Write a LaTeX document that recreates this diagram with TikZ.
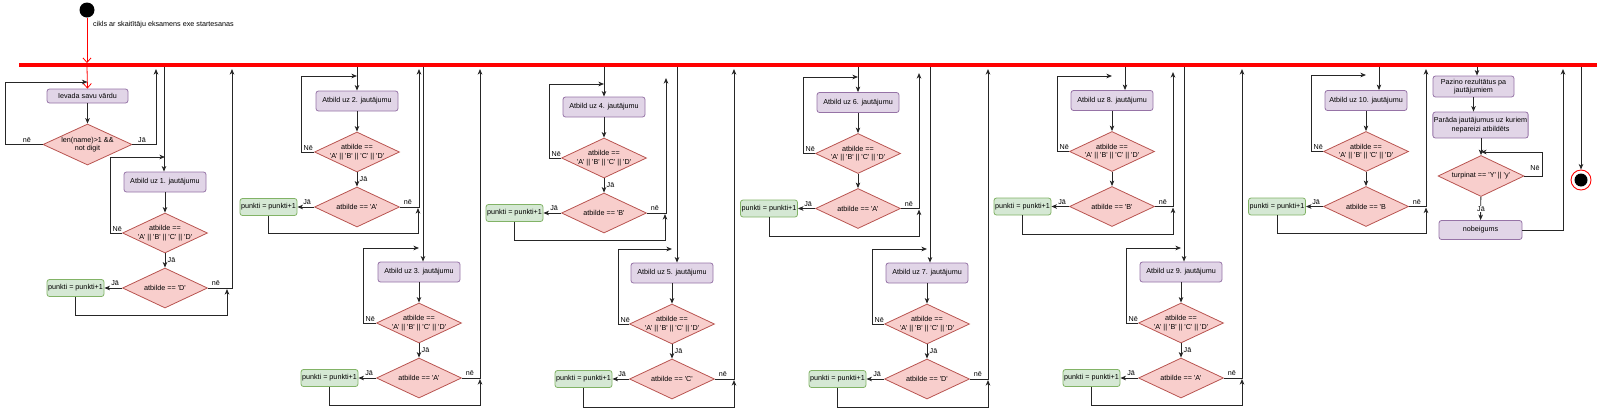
\documentclass[tikz,border=0pt]{standalone}
\usepackage{fontspec}
\setmainfont{Liberation Sans}[Ligatures=TeXOff]
\usetikzlibrary{shapes.geometric,arrows.meta}
\definecolor{actf}{HTML}{E1D5E7}
\definecolor{actb}{HTML}{9673A6}
\definecolor{decf}{HTML}{F8CECC}
\definecolor{decb}{HTML}{B85450}
\definecolor{okf}{HTML}{D5E8D4}
\definecolor{okb}{HTML}{82B366}
\begin{document}
\begin{tikzpicture}[x=1pt,y=-1pt,
  font=\fontsize{7.2}{8.4}\selectfont,
  act/.style={draw=actb, fill=actf, rounded corners=2.5, minimum width=82, minimum height=20, inner sep=1, align=center, line width=0.8},
  dec/.style={diamond, draw=decb, fill=decf, minimum width=85, minimum height=40, inner sep=0, line width=0.8},
  dtxt/.style={inner sep=0, align=center},
  okbox/.style={draw=okb, fill=okf, rounded corners=2.5, minimum width=57, minimum height=17, inner sep=1, line width=0.8},
  flow/.style={line width=0.9, draw=black!85},
  arr/.style={flow, -{Stealth[length=5.5, width=4.5, inset=1.5]}},
  lbl/.style={inner sep=0.5}]
\useasboundingbox (0,0) rectangle (1600,413);

% bar
\node[fill=red, minimum width=1578, minimum height=3.5, inner sep=0] (bar) at (808,65) {};

% start
\node[circle, fill=black, minimum size=15, inner sep=0] (start) at (87,10) {};
\node[anchor=west, inner sep=0] (startlbl) at (93,25) {cikls ar skait\={\i}t\={a}ju eksamens exe startesanas};
\draw[red, line width=0.8, -{Straight Barb[length=4.5, width=8]}] (start) -- (start |- bar.north);

% name block
\node[act, minimum width=81, minimum height=14] (iev) at (87.5,96) {Ievada savu v\={a}rdu};
\draw[red, line width=0.8, -{Straight Barb[length=4.5, width=8]}] (start |- bar.south) -- (iev.north);
\node[dec, minimum width=89, minimum height=41] (dn) at (87.5,144.5) {};
\node[dtxt] (dnt) at (dn) {len(name)>1 \&\&\\not digit};
\draw[arr] (iev) -- (dn);
\coordinate (nl) at (5,82);
\draw[arr] (dn.west) -| (nl) -- (nl -| iev.north);
\node[lbl, anchor=south] (nlbl) at (27,143) {nē};
\coordinate (nj) at (156,69);
\draw[arr] (dn.east) -| (nj);
\node[lbl, anchor=south] (jlbl) at (142,143) {Jā};

% question blocks
\foreach \n/\cx/\by/\px/\lx/\ly/\dx/\nx/\ty/\rx/\ry/\ja/\ans in {
  1/165/182/75.5/110/157/164/232/69/227/315/1/{'D'},
  2/357/101/268.5/301/76/357/419/69/418/233/1/{'A'},
  3/419/272/329.5/363/248/423/480/69/480/405/1/{'A'},
  4/604/107/514.5/549/84/604/666/78/665/240/1/{'B'},
  5/672/273/583.5/618/249/677/734/69/734/407/1/{'C'},
  6/858/102.5/769/803/77/858/919/73/919/236/0/{'A'},
  7/927/273/837.5/872/249/930/988/69/988/407/1/{'D'},
  8/1112/100.5/1022.5/1057/76/1125/1173/72/1173/234/0/{'B'},
  9/1181/272/1091.5/1126/248/1184/1242/69/1242/405/1/{'A'},
  10/1366/100.5/1277/1311/75/1379/1426/69/1426/233/0/{'B}}{
  \node[act] (q\n) at (\cx,\by) {Atbild uz \n. jautājumu};
  \node[dec] (da\n) at (\cx,\by+51) {};
  \node[dtxt] (ta\n) at (da\n) {atbilde ==\\'A' || 'B' || 'C' || 'D'};
  \node[dec] (db\n) at (\cx,\by+106) {};
  \node[dtxt] (tb\n) at (db\n) {atbilde == \ans};
  \node[okbox] (p\n) at (\px,\by+106) {punkti = punkti+1};
  \coordinate (dn\n) at (\dx,0);
  \draw[arr] (bar.south -| dn\n) -- (q\n.north -| dn\n);
  \coordinate (lc\n) at (\lx,\ly);
  \draw[arr] (da\n.west) -| (lc\n) -- (lc\n -| q\n.north);
  \node[lbl, anchor=south west] (nl\n) at (\lx+2,\by+50) {Nē};
  \draw[arr] (q\n) -- (da\n);
  \draw[arr] (da\n) -- (db\n);
  \ifnum\ja=1 \node[lbl, anchor=west] (jl\n) at (\cx+2,\by+78.5) {Jā};\fi
  \draw[arr] (db\n) -- (p\n);
  \node[lbl, anchor=south] (jp\n) at ([xshift=-7pt,yshift=1.5pt]db\n.west) {Jā};
  \coordinate (nt\n) at (\nx,\ty);
  \draw[arr] (db\n.east) -| (nt\n);
  \node[lbl, anchor=south] (nn\n) at ([xshift=8pt,yshift=1.5pt]db\n.east) {nē};
  \coordinate (rc\n) at (\rx,\ry);
  \draw[arr] (p\n.south) |- (rc\n) -- ([yshift=-1pt]rc\n |- db\n.east);
}

% final block
\node[act, minimum width=81, minimum height=21] (paz) at (1473.5,86.5) {Pazino rezultātus pa\\jautājumiem};
\coordinate (pzd) at (1477,0);
\draw[arr] (bar.south -| pzd) -- (paz.north -| pzd);
\node[act, minimum width=95, minimum height=26] (par) at (1480.5,125) {Parāda jautājumus uz kuriem\\nepareizi atbildēts};
\draw[arr] (paz.south) -- (paz.south |- par.north);
\node[dec, minimum width=86, minimum height=41] (tur) at (1481,176) {};
\node[dtxt] (turt) at (tur) {turpinat == 'Y' || 'y'};
\draw[arr] (tur.north |- par.south) -- (tur.north);
\coordinate (tl) at (1542,152);
\draw[arr] (tur.east) -| (tl) -- (tl -| tur.north);
\node[lbl, anchor=south] (tnl) at (1535,171) {Nē};
\node[act, minimum width=83, minimum height=19] (nob) at (1480.5,230) {nobeigums};
\draw[arr] (tur) -- (nob);
\node[lbl, fill=white] (tjl) at (1481,209) {Jā};
\coordinate (nbu) at (1563,69);
\draw[arr] (nob.east) -| (nbu);

% end
\node[circle, draw=red, fill=white, line width=0.9, minimum size=20, inner sep=0] (end) at (1581,180) {};
\node[circle, fill=black, minimum size=13, inner sep=0] (endi) at (end) {};
\coordinate (ed) at (1581,0);
\draw[arr] (bar.south -| ed) -- (end.north);
\end{tikzpicture}
\end{document}
